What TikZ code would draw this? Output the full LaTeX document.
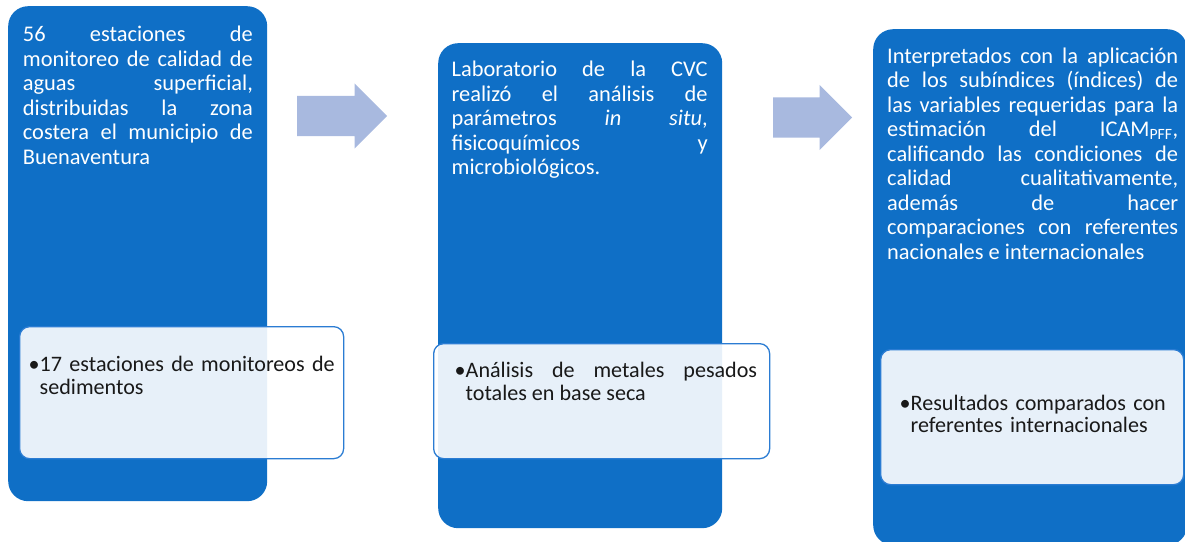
\documentclass[tikz,border=0pt]{standalone}
\usepackage{fontspec}
\setmainfont{Carlito}
\usepackage{xcolor}
\usetikzlibrary{shapes.arrows, positioning}

\definecolor{panelblue}{HTML}{0F6FC6}
\definecolor{insetline}{HTML}{2B7CD3}
\definecolor{arrowblue}{HTML}{A8B9DF}
\setlength{\parindent}{0pt}
\tolerance=10000
\hyphenpenalty=10000
\newcommand{\firstln}{\rule{0pt}{18pt}}

\begin{document}
\begin{tikzpicture}[
  x=1pt, y=-1pt,
  panel/.style={rectangle, rounded corners=20pt, fill=panelblue, draw=none, inner sep=0pt, anchor=north west},
  inset/.style={rectangle, rounded corners=10pt, fill=white, fill opacity=0.9, draw=insetline, line width=1.3pt, inner sep=0pt, anchor=north west},
  paneltxt/.style={text=white, inner sep=0pt, align=justify, font=\fontsize{22.4pt}{24.5pt}\selectfont},
  insettxt/.style={text=black!90, inner sep=0pt, font=\fontsize{22.1pt}{22.5pt}\selectfont},
  blockarr/.style={single arrow, fill=arrowblue, draw=none, inner xsep=0pt, inner ysep=20pt, single arrow head extend=12.5pt, single arrow tip angle=90, anchor=tail}
]
\useasboundingbox (0,0) rectangle (1185,541);

% the three columns
\node[panel, minimum width=259pt, minimum height=495pt] (muestreo) at (8,6) {};
\node[panel, minimum width=284pt, minimum height=485pt] (laboratorio) at (438,43) {};
\node[panel, minimum width=314pt, minimum height=516pt] (icam) at (873,29) {};

\node[inset, minimum width=324pt, minimum height=132pt] (sedimentos) at (19,326) {};
\node[inset, minimum width=336pt, minimum height=115pt] (metales) at (433,343) {};
\node[inset, minimum width=303pt, minimum height=135pt] (referentes) at (880,349) {};

\node[paneltxt, text width=230pt, below right=17.4pt and 14.7pt of muestreo.north west] (muestreoT) {\firstln 56 estaciones de\linebreak monitoreo de calidad de\linebreak aguas superficial,\linebreak distribuidas la zona\linebreak costera el municipio de\linebreak Buenaventura};
\node[paneltxt, text width=256pt, below right=15.5pt and 13.5pt of laboratorio.north west] (laboratorioT) {\firstln Laboratorio de la CVC\linebreak realizó el análisis de\linebreak parámetros \textit{in} \textit{situ},\linebreak fisicoquímicos y\linebreak microbiológicos.};
\node[paneltxt, text width=291pt, below right=16pt and 14pt of icam.north west] (icamT) {\firstln Interpretados con la aplicación\linebreak de los subíndices (índices) de\linebreak las variables requeridas para la\linebreak estimación del ICAM\textsubscript{PFF},\linebreak calificando las condiciones de\linebreak calidad cualitativamente,\linebreak además de hacer\linebreak comparaciones con referentes\linebreak nacionales e internacionales};

\node[insettxt, text width=300pt, align=left, below right=27.7pt and 20.5pt of sedimentos.north west] (sedimentosT) {\firstln\llap{•}17 estaciones de monitoreos de\\ sedimentos};
\node[insettxt, text width=291.5pt, align=justify, below right=16.6pt and 32.5pt of metales.north west] (metalesT) {\firstln\llap{•}Análisis de metales pesados\linebreak totales en base seca};
\node[insettxt, text width=270pt, align=left, below right=43pt and 30.5pt of referentes.north west] (referentesT) {\firstln\llap{•}Resultados comparados con\\ referentes internacionales};

% block arrows between the columns
\node[blockarr, minimum height=90pt] (paso1) at (297,116) {};
\node[blockarr, minimum height=79pt] (paso2) at (773,117.5) {};
\end{tikzpicture}
\end{document}
